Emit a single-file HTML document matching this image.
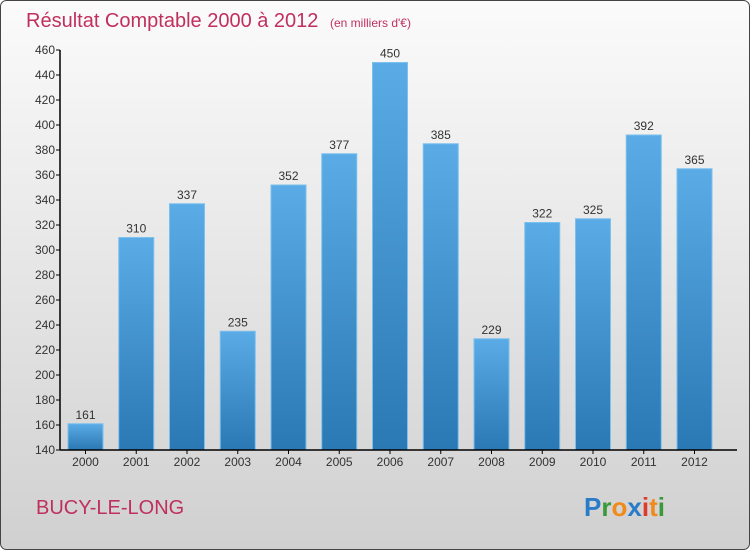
<!DOCTYPE html>
<html><head><meta charset="utf-8"><style>
body{margin:0;width:750px;height:550px;overflow:hidden}
svg{display:block;font-family:"Liberation Sans",sans-serif}
</style></head><body>
<svg id="chart" width="750" height="550" viewBox="0 0 750 550">
<defs>
<linearGradient id="bg" x1="0" y1="0" x2="0" y2="1"><stop offset="0" stop-color="#fbfbfb"/><stop offset="1" stop-color="#d0d0d0"/></linearGradient>
<linearGradient id="bar" x1="0" y1="0" x2="0" y2="1"><stop offset="0" stop-color="#5aabe6"/><stop offset="1" stop-color="#2a78b4"/></linearGradient>
</defs>
<rect x="0.5" y="0.5" width="749" height="549" rx="6" fill="url(#bg)" stroke="#444"/>
<text x="26" y="27" font-size="20" fill="#c0305e">Résultat Comptable 2000 à 2012 <tspan font-size="12" dx="6">(en milliers d'€)</tspan></text>
<g id="yaxis"></g>
<g id="bars"></g>
<g id="xaxis"></g>
<text x="36" y="514" font-size="20" fill="#c0305e">BUCY-LE-LONG</text>
<text x="584" y="516" font-size="26" font-weight="bold"><tspan fill="#2a7cc8">P</tspan><tspan fill="#3a9a3a">r</tspan><tspan fill="#f08a1a">o</tspan><tspan fill="#2a7cc8">x</tspan><tspan fill="#e03a2a">i</tspan><tspan fill="#f08a1a">t</tspan><tspan fill="#3a9a3a">i</tspan></text>
</svg>
<script>
const years=["2000","2001","2002","2003","2004","2005","2006","2007","2008","2009","2010","2011","2012"];
const values=[161,310,337,235,352,377,450,385,229,322,325,392,365];
const yTicks=[140,160,180,200,220,240,260,280,300,320,340,360,380,400,420,440,460];
const NS="http://www.w3.org/2000/svg";
const y0=450,y1=50,vmin=140,vmax=460,xl=60,xr=737;
const yScale=v=>y0-(v-vmin)/(vmax-vmin)*(y0-y1);
const step=50.75;
const xScale=i=>85.5+step*i;
function mk(tag,attrs,parent,text){const e=document.createElementNS(NS,tag);for(const k in attrs)e.setAttribute(k,attrs[k]);if(text!==undefined)e.textContent=text;parent.appendChild(e);return e;}
const ya=document.getElementById('yaxis'),bg=document.getElementById('bars'),xa=document.getElementById('xaxis');
mk('line',{x1:xl,y1:y1,x2:xl,y2:y0,stroke:'#000','stroke-width':1.5},ya);
yTicks.forEach(t=>{const y=yScale(t);
 mk('line',{x1:xl-4,y1:y,x2:xl,y2:y,stroke:'#000'},ya);
 const tx=mk('text',{x:xl-5,y:y+4,'font-size':12,'text-anchor':'end',fill:'#333'},ya,String(t));
 
 
});
mk('line',{x1:xl,y1:y0,x2:xr,y2:y0,stroke:'#000','stroke-width':1.5},xa);
years.forEach((yr,i)=>{const cx=xScale(i),w=35,top=yScale(values[i]);
 const r=mk('rect',{x:cx-w/2,y:top,width:w,height:y0-top,fill:'url(#bar)',stroke:'#7cc0ee','stroke-width':1},bg);
 
 
 const l=mk('text',{x:cx,y:top-5,'font-size':12,'text-anchor':'middle',fill:'#333'},bg,String(values[i]));
 
 
 mk('line',{x1:cx,y1:y0,x2:cx,y2:y0+4,stroke:'#000'},xa);
 const xt=mk('text',{x:cx,y:y0+16,'font-size':12,'text-anchor':'middle',fill:'#333'},xa,yr);
 
 
});
</script>
</body></html>
